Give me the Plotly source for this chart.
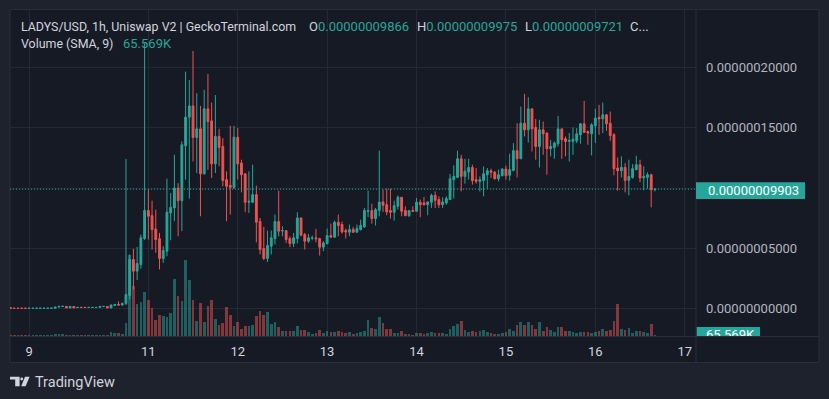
import plotly.graph_objects as go

W, H = 829, 399

# ---------------- data (prices in units of 1e-9 USD, volume in K) ----------------
opens = [
    0.9, 0.4, 0.4, 0.4, 0.4, 0.3, 0.3, 0.3, 0.3, 0.3,
    0.3, 0.4, 0.4, 1.4, 1.8, 1.9, 0.6, 1.9, 1.0, 1.2,
    1.2, 1.0, 1.0, 1.0, 1.1, 1.8, 1.9, 0.6, 2.6, 3.6,
    3.0, 4.4,
    11.0, 40.8, 31.1, 36.6, 58.1, 81.3, 77.1, 66.0, 58.0, 41.6,
    47.7, 79.3, 83.5, 100.0, 89.5, 135.0, 158.7, 168.0, 141.9, 149.0,
    111.8, 165.6, 155.6, 120.0, 142.7, 134.4, 106.9, 102.2, 100.5, 142.1,
    120.7, 111.8, 88.2, 88.2, 94.5, 72.2, 49.9, 41.6, 51.8, 58.1,
    72.2, 64.4, 64.7, 58.1, 54.0, 58.1, 75.2, 61.4, 55.9, 58.4,
    58.7, 58.1, 51.0, 54.0, 60.6, 59.2, 71.6, 69.7, 64.7, 63.4,
    65.6, 63.4, 65.6, 67.8, 80.7, 81.3, 74.7, 81.3, 88.4, 86.2,
    81.3, 79.9, 84.8, 92.3, 81.3, 77.1, 81.3, 80.7, 88.2, 87.6,
    86.2, 88.2, 93.9, 90.4, 86.2, 87.6, 90.4, 106.9, 108.8, 124.2,
    109.6, 113.2, 117.0, 106.9, 105.5, 106.3, 111.0, 114.3, 113.2, 107.7,
    110.2, 115.7, 110.5, 114.6, 130.9, 124.2, 153.7, 148.2, 165.6, 150.1,
    134.4, 148.2, 145.5, 132.5, 133.6, 136.6, 149.0, 140.8, 138.6, 138.6,
    139.1, 144.0, 153.2, 146.8, 144.9, 151.5, 158.4, 157.3, 160.6, 153.7,
    144.1, 116.5, 114.3, 117.1, 106.3, 108.8, 115.2, 119.3, 108.3, 108.8,
    111.0, 98.66,
]
highs = [
    1.0, 0.4, 0.4, 0.4, 0.4, 0.4, 0.4, 0.4, 0.4, 0.4,
    0.4, 0.5, 1.5, 2.7, 2.5, 2.0, 1.9, 1.9, 1.2, 1.2,
    1.2, 1.2, 1.2, 1.2, 2.0, 2.0, 1.9, 3.6, 3.9, 6.1,
    5.0, 124.0,
    44.9, 49.6, 51.2, 61.4, 220.0, 99.2, 89.5, 82.0, 62.8, 51.8,
    107.7, 95.9, 127.5, 104.0, 138.6, 196.4, 189.5, 213.5, 178.5, 168.0,
    181.3, 194.5, 170.8, 177.0, 149.0, 141.3, 113.8, 151.5, 151.5, 149.6,
    123.4, 111.8, 113.8, 119.3, 101.9, 75.2, 67.8, 64.7, 64.7, 78.0,
    97.8, 68.3, 64.7, 60.0, 62.8, 79.9, 75.2, 62.8, 62.0, 60.6,
    66.1, 58.7, 56.0, 66.4, 70.5, 73.0, 78.0, 72.2, 66.4, 69.7,
    67.8, 69.7, 73.8, 83.5, 97.8, 87.0, 83.5, 130.9, 98.6, 99.4,
    99.4, 89.5, 93.9, 92.3, 84.8, 81.3, 84.8, 91.7, 90.4, 92.6,
    89.0, 95.3, 97.2, 93.1, 92.3, 93.1, 111.6, 118.7, 130.9, 127.5,
    124.2, 124.2, 119.3, 116.5, 109.6, 117.9, 116.5, 116.0, 113.8, 115.2,
    116.5, 118.5, 128.4, 137.2, 153.7, 167.5, 178.0, 175.2, 165.6, 157.3,
    156.5, 155.1, 146.0, 139.9, 138.6, 159.8, 149.0, 142.7, 145.5, 150.1,
    149.6, 153.7, 172.2, 147.7, 153.7, 165.6, 168.9, 170.8, 161.4, 163.4,
    145.5, 125.3, 126.2, 120.7, 123.4, 119.8, 126.7, 123.4, 117.9, 113.0,
    111.8, 99.75,
]
lows = [
    0.3, 0.3, 0.3, 0.3, 0.3, 0.3, 0.3, 0.3, 0.3, 0.3,
    0.3, 0.3, 0.3, 1.2, 1.5, 0.6, 0.6, 0.6, 1.0, 1.0,
    1.0, 1.0, 1.0, 1.0, 1.0, 1.7, 0.6, 0.5, 2.2, 3.0,
    2.8, 3.0,
    7.7, 16.0, 23.7, 33.0, 57.0, 57.3, 49.0, 46.3, 32.5, 38.0,
    43.5, 56.7, 72.5, 60.0, 64.2, 106.9, 91.2, 122.0, 112.4, 76.6,
    111.0, 115.0, 108.3, 112.4, 118.0, 101.4, 72.5, 78.0, 99.2, 106.9,
    96.4, 80.0, 79.3, 87.6, 55.0, 45.0, 40.2, 38.6, 44.9, 53.2,
    60.0, 60.0, 54.5, 51.0, 51.0, 54.0, 60.0, 49.0, 54.5, 56.7,
    55.0, 44.0, 47.7, 53.2, 59.2, 59.2, 60.0, 62.3, 58.1, 60.0,
    62.8, 62.8, 64.7, 66.9, 75.8, 70.5, 68.9, 76.6, 80.2, 77.4,
    74.7, 73.0, 82.1, 76.6, 76.6, 75.8, 80.7, 80.2, 75.8, 85.4,
    77.4, 83.5, 83.5, 83.5, 83.5, 86.2, 90.4, 91.2, 108.3, 97.2,
    103.6, 106.9, 102.8, 103.6, 97.2, 93.1, 99.4, 108.3, 106.9, 105.5,
    109.6, 106.9, 106.1, 113.8, 108.8, 124.2, 142.7, 137.7, 130.3, 123.4,
    117.0, 127.5, 111.0, 126.2, 124.2, 134.4, 124.2, 126.2, 122.0, 127.5,
    137.2, 136.6, 146.0, 135.8, 127.0, 137.2, 144.1, 145.5, 147.4, 139.1,
    110.5, 97.8, 108.8, 96.4, 93.9, 107.7, 114.6, 104.7, 98.0, 99.4,
    84.0, 97.21,
]
closes = [
    0.3, 0.3, 0.3, 0.3, 0.3, 0.4, 0.4, 0.4, 0.4, 0.4,
    0.4, 0.5, 1.4, 1.8, 2.0, 0.6, 1.9, 0.6, 1.1, 1.0,
    1.0, 1.1, 1.1, 1.1, 1.9, 1.9, 0.6, 3.0, 3.6, 3.0,
    4.4, 11.8,
    40.8, 31.1, 37.5, 58.7, 81.3, 76.6, 65.6, 57.3, 41.6, 48.2,
    79.9, 84.0, 100.0, 89.5, 135.8, 158.7, 168.0, 141.9, 149.0, 111.8,
    165.6, 155.0, 120.0, 142.7, 133.6, 106.3, 101.4, 100.5, 142.1, 120.0,
    111.0, 88.2, 89.0, 94.5, 71.6, 49.0, 41.6, 52.3, 58.7, 72.2,
    64.2, 64.7, 57.3, 54.0, 58.7, 75.2, 60.9, 55.9, 58.7, 58.7,
    57.9, 51.0, 54.5, 60.6, 59.2, 71.6, 68.9, 63.6, 63.6, 65.6,
    63.4, 66.4, 68.9, 81.3, 81.3, 74.7, 82.1, 88.4, 85.7, 80.2,
    79.9, 85.4, 92.3, 80.7, 77.1, 81.3, 80.7, 88.2, 86.2, 86.2,
    88.4, 93.9, 89.8, 86.2, 88.4, 91.2, 107.7, 109.6, 124.2, 109.6,
    113.8, 117.0, 106.1, 105.5, 106.9, 111.8, 114.3, 113.0, 107.7, 111.0,
    115.7, 110.2, 115.2, 130.9, 124.2, 153.7, 148.2, 165.6, 149.0, 134.4,
    148.2, 144.9, 132.5, 134.4, 137.2, 149.0, 140.0, 138.6, 139.4, 140.5,
    144.9, 153.2, 146.0, 145.5, 152.3, 157.9, 157.3, 160.6, 153.2, 143.5,
    116.0, 114.3, 117.1, 106.3, 109.6, 116.0, 119.3, 108.3, 109.6, 111.0,
    98.6, 99.03,
]
volumes_k = [
    40, 40, 40, 40, 40, 40, 40, 40, 40, 40,
    40, 40, 115, 115, 115, 50, 50, 50, 50, 50,
    50, 50, 50, 50, 50, 50, 50, 200, 175, 175,
    100, 665,
    4050, 2500, 1600, 1700, 2200, 1800, 1400, 800, 1050, 1000,
    950, 1150, 2850, 2000, 1750, 3800, 2800, 1800, 750, 1650,
    700, 1500, 1800, 850, 550, 650, 1450, 1050, 500, 700,
    350, 500, 500, 550, 1000, 1250, 1050, 1200, 600, 700,
    450, 250, 250, 250, 250, 500, 300, 300, 200, 100,
    150, 300, 150, 250, 200, 200, 250, 200, 150, 200,
    100, 150, 200, 250, 800, 400, 350, 950, 650, 350,
    350, 150, 150, 250, 100, 100, 50, 150, 150, 100,
    150, 200, 150, 150, 150, 100, 350, 500, 600, 750,
    300, 200, 250, 200, 250, 300, 200, 150, 100, 100,
    150, 200, 350, 250, 550, 700, 550, 700, 550, 350,
    700, 250, 450, 300, 200, 450, 450, 250, 250, 200,
    150, 200, 200, 200, 150, 200, 250, 350, 250, 300,
    750, 1600, 350, 300, 400, 150, 250, 250, 200, 150,
    600, 65.569,
]
day_tick_index = [5, 37, 61, 85, 109, 133, 157, 181]
day_tick_labels = ["9", "11", "12", "13", "14", "15", "16", "17"]
price_tick_values = [0, 50, 100, 150, 200]
price_tick_labels = ["0.00000000000", "0.00000005000", "", "0.00000015000", "0.00000020000"]
pair_title = "LADYS/USD, 1h, Uniswap V2 | GeckoTerminal.com"
volume_title = "Volume (SMA, 9)"

n = len(opens)
assert len(highs) == n and len(lows) == n and len(closes) == n and len(volumes_k) == n, (
    len(opens), len(highs), len(lows), len(closes), len(volumes_k))

NANO = 1e-9
idx = list(range(n))
o = [v * NANO for v in opens]
h = [v * NANO for v in highs]
l = [v * NANO for v in lows]
c = [v * NANO for v in closes]

# ---------------- style ----------------
UP = "#26a69a"
DOWN = "#ef5350"
UP_VOL = "rgba(38,166,154,0.5)"
DOWN_VOL = "rgba(239,83,80,0.5)"
PANE = "#161a25"
OUTER = "#1e222d"
GRID = "#252934"
BORDER = "#2a2e39"
TXT = "#d1d4dc"
AXTXT = "#b2b5be"
FONT = "Roboto, sans-serif"

# pixel geometry of the pane
PX_L, PX_R, PX_T, PX_B = 10.0, 696.0, 10.0, 336.0
STEP = 3.725          # px per candle
X0_PX = 10.5          # pixel of candle index 0
Y0_PX, PX_PER_NANO = 308.7, 1.207   # price 0 pixel, px per 1e-9
VOL_K_PER_PX = 50.0


def px(x):
    return x / W


def py(y):
    return 1 - y / H


x_range = [(PX_L - X0_PX) / STEP, (PX_R - X0_PX) / STEP]
y_range = [(Y0_PX - PX_B) / PX_PER_NANO * NANO, (Y0_PX - PX_T) / PX_PER_NANO * NANO]
vol_range = [0, (PX_B - PX_T) * VOL_K_PER_PX]

vol_colors = [UP_VOL if closes[i] >= opens[i] else DOWN_VOL for i in idx]

fig = go.Figure()
fig.add_trace(go.Bar(
    x=idx, y=volumes_k, marker=dict(color=vol_colors, line=dict(width=0)),
    width=0.72, xaxis="x", yaxis="y", hoverinfo="skip", showlegend=False,
))
fig.add_trace(go.Candlestick(
    x=idx, open=o, high=h, low=l, close=c,
    increasing=dict(line=dict(color=UP, width=1), fillcolor=UP),
    decreasing=dict(line=dict(color=DOWN, width=1), fillcolor=DOWN),
    whiskerwidth=0, xaxis="x", yaxis="y2", hoverinfo="skip", showlegend=False,
))
# clipped volume value label on the price scale
fig.add_trace(go.Scatter(
    x=[706], y=[335.5], mode="text", text=[f"{volumes_k[-1]:.3f}K"],
    textposition="middle right", textfont=dict(color="#ffffff", size=13, family=FONT),
    cliponaxis=True, xaxis="x3", yaxis="y3", hoverinfo="skip", showlegend=False,
))

shapes = [
    # chart frame
    dict(type="rect", xref="paper", yref="paper", x0=px(10), x1=px(819), y0=py(362.5), y1=py(9.5),
         fillcolor=PANE, line=dict(color=BORDER, width=1), layer="below"),
    # price scale divider
    dict(type="line", xref="paper", yref="paper", x0=px(696), x1=px(696), y0=py(362.5), y1=py(9.5),
         line=dict(color=BORDER, width=1), layer="above"),
    # time scale divider
    dict(type="line", xref="paper", yref="paper", x0=px(10), x1=px(819), y0=py(336.5), y1=py(336.5),
         line=dict(color=BORDER, width=1), layer="above"),
    # last price dotted line
    dict(type="line", xref="paper", yref="y2", x0=px(PX_L), x1=px(PX_R),
         y0=closes[-1] * NANO, y1=closes[-1] * NANO,
         line=dict(color=UP, width=1, dash="1px,2px"), layer="above"),
    # last price label box
    dict(type="rect", xref="paper", yref="paper", x0=px(696), x1=px(805), y0=py(199), y1=py(182.3),
         fillcolor=UP, line=dict(width=0), layer="above"),
    # volume label box (clipped by subplot 3)
    dict(type="rect", xref="x3", yref="y3", x0=696, x1=760, y0=327, y1=344,
         fillcolor=UP, line=dict(width=0), layer="below"),
]

# TradingView logo (simple glyph)
def path_px(points):
    s = "M " + " L ".join(f"{px(x):.5f},{py(y):.5f}" for x, y in points) + " Z"
    return s

shapes += [
    dict(type="path", xref="paper", yref="paper",
         path=path_px([(10, 376.7), (19.6, 376.7), (19.6, 386.3), (15.2, 386.3), (15.2, 379.6), (10, 379.6)]),
         fillcolor=TXT, line=dict(width=0), layer="above"),
    dict(type="circle", xref="paper", yref="paper", x0=px(20.3), x1=px(23.1), y0=py(380.4), y1=py(377.6),
         fillcolor=TXT, line=dict(width=0), layer="above"),
    dict(type="path", xref="paper", yref="paper",
         path=path_px([(25.0, 376.7), (29.6, 376.7), (25.6, 386.3), (21.2, 386.3)]),
         fillcolor=TXT, line=dict(width=0), layer="above"),
]

teal_span = "<span style='color:%s'>%s</span>"
TITLE_FONT = dict(color=TXT, size=12.4, family=FONT)
annotations = [
    dict(text=pair_title, x=px(18.5), y=py(26), xref="paper", yref="paper",
         xanchor="left", yanchor="middle", showarrow=False, font=TITLE_FONT),
    dict(text="O" + teal_span % (UP, f"{opens[-1] * NANO:.11f}"), x=px(306.5), y=py(26), xref="paper", yref="paper",
         xanchor="left", yanchor="middle", showarrow=False, font=dict(color=TXT, size=13, family=FONT)),
    dict(text="H" + teal_span % (UP, f"{highs[-1] * NANO:.11f}"), x=px(414.5), y=py(26), xref="paper", yref="paper",
         xanchor="left", yanchor="middle", showarrow=False, font=dict(color=TXT, size=13, family=FONT)),
    dict(text="L" + teal_span % (UP, f"{lows[-1] * NANO:.11f}"), x=px(523), y=py(26), xref="paper", yref="paper",
         xanchor="left", yanchor="middle", showarrow=False, font=dict(color=TXT, size=13, family=FONT)),
    dict(text="C...", x=px(627.5), y=py(26), xref="paper", yref="paper",
         xanchor="left", yanchor="middle", showarrow=False, font=dict(color=TXT, size=13, family=FONT)),
    dict(text=volume_title, x=px(18.5), y=py(43.5),
         xref="paper", yref="paper", xanchor="left", yanchor="middle", showarrow=False, font=TITLE_FONT),
    dict(text=f"{volumes_k[-1]:.3f}K", x=px(120.5), y=py(43.5),
         xref="paper", yref="paper", xanchor="left", yanchor="middle", showarrow=False,
         font=dict(color=UP, size=13, family=FONT)),
    dict(text=f"{closes[-1] * NANO:.11f}", x=px(705.5), y=py(190.8), xref="paper", yref="paper",
         xanchor="left", yanchor="middle", showarrow=False, font=dict(color="#ffffff", size=13, family=FONT)),
    dict(text="TradingView", x=px(32.5), y=py(382), xref="paper", yref="paper",
         xanchor="left", yanchor="middle", showarrow=False, font=dict(color=TXT, size=14.5, family=FONT)),
]

fig.update_layout(
    width=W, height=H, autosize=False,
    margin=dict(l=0, r=0, t=0, b=0, pad=0),
    paper_bgcolor=OUTER, plot_bgcolor=PANE,
    showlegend=False, hovermode=False, dragmode=False,
    bargap=0,
    xaxis=dict(
        domain=[px(PX_L), px(PX_R)], range=x_range, anchor="y",
        tickmode="array", tickvals=day_tick_index, ticktext=day_tick_labels,
        showgrid=True, gridcolor=GRID, gridwidth=1, zeroline=False, showline=False,
        ticks="", ticklabelstandoff=6,
        tickfont=dict(color=TXT, size=13, family=FONT),
        rangeslider=dict(visible=False), fixedrange=True,
    ),
    yaxis=dict(
        domain=[py(PX_B), py(PX_T)], range=vol_range, visible=False,
        showgrid=False, zeroline=False, fixedrange=True,
    ),
    yaxis2=dict(
        overlaying="y", side="right", anchor="x", range=y_range,
        tickmode="array", tickvals=[v * NANO for v in price_tick_values], ticktext=price_tick_labels,
        showgrid=True, gridcolor=GRID, gridwidth=1, zeroline=False, showline=False,
        ticks="", ticklabelstandoff=9,
        tickfont=dict(color=AXTXT, size=13, family=FONT), fixedrange=True,
    ),
    xaxis3=dict(domain=[px(696.5), px(819)], range=[696.5, 819], visible=False,
                anchor="y3", fixedrange=True, showgrid=False, zeroline=False),
    yaxis3=dict(domain=[py(PX_B), py(PX_T)], range=[PX_B, PX_T], visible=False,
                anchor="x3", fixedrange=True, showgrid=False, zeroline=False),
    shapes=shapes,
    annotations=annotations,
)

fig.write_html(
    "out.html",
    config=dict(displayModeBar=False, staticPlot=True),
    post_script="document.body.style.margin='0';document.body.style.padding='0';"
                "document.body.style.background='%s';" % OUTER,
)
